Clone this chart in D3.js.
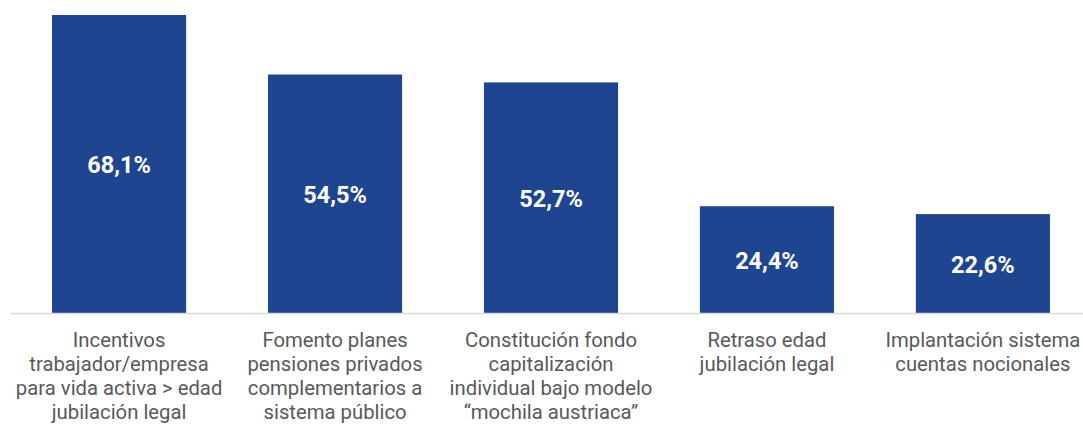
<!DOCTYPE html>
<html><head><meta charset="utf-8">
<script src="https://cdn.jsdelivr.net/npm/d3@7"></script>
<style>body{margin:0;background:#fff}svg{display:block}</style>
</head><body>
<svg id="c" width="1083" height="443"></svg>
<script>
const categories = [
  ["Incentivos","trabajador/empresa","para vida activa > edad","jubilación legal"],
  ["Fomento planes","pensiones privados","complementarios a","sistema público"],
  ["Constitución fondo","capitalización","individual bajo modelo","“mochila austriaca”"],
  ["Retraso edad","jubilación legal"],
  ["Implantación sistema","cuentas nocionales"]
];
const values = [68.1, 54.5, 52.7, 24.4, 22.6];
const labels = ["68,1%","54,5%","52,7%","24,4%","22,6%"];

const svg = d3.select("#c");
const baseY = 313;
const x = d3.scaleBand().domain(d3.range(values.length)).range([11,1091]).paddingInner(0.379).paddingOuter(0.19);
const y = d3.scaleLinear().domain([0,68.1]).range([baseY,15]);

svg.selectAll("rect.bar").data(values).join("rect")
  .attr("x",(d,i)=>x(i)).attr("width",x.bandwidth())
  .attr("y",d=>y(d)).attr("height",d=>baseY-y(d))
  .attr("fill","#1f4590");

svg.append("line").attr("x1",11).attr("x2",1083).attr("y1",baseY+0.5).attr("y2",baseY+0.5)
  .attr("stroke","#d9d9d9").attr("stroke-width",1.5);

svg.selectAll("text.val").data(values).join("text")
  .attr("x",(d,i)=>x(i)+x.bandwidth()/2)
  .attr("y",d=>(y(d)+baseY)/2+9)
  .attr("text-anchor","middle").attr("fill","#fff")
  .attr("font-family","Roboto").attr("font-weight","bold").attr("font-size",23.5)
  .text((d,i)=>labels[i]);

const g = svg.selectAll("g.lab").data(categories).join("g")
  .attr("transform",(d,i)=>`translate(${x(i)+x.bandwidth()/2},347)`);
g.selectAll("text").data(d=>d).join("text")
  .attr("y",(d,j)=>j*24).attr("text-anchor","middle")
  .attr("fill","#595959").attr("font-family","Roboto").attr("font-size",20.3)
  .text(d=>d);
</script>
</body></html>
